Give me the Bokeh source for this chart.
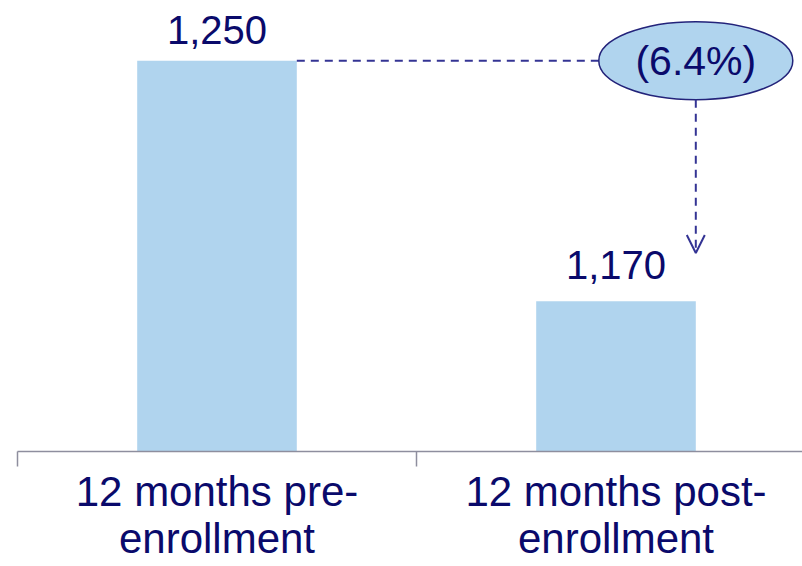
from bokeh.plotting import figure
from bokeh.models import Range1d, FixedTicker, ColumnDataSource, Arrow, OpenHead, LinearAxis, LabelSet
from bokeh.embed import file_html
from bokeh.resources import INLINE
from bokeh.core.properties import value

# ---- data ----
categories = ["12 months pre-\nenrollment", "12 months post-\nenrollment"]
values = [1250, 1170]
value_labels = ["1,250", "1,170"]

# ---- style ----
NAVY = "#0A0A6B"
BAR = "#B0D4EE"
DASH = "#343494"
AXIS = "#8E8E9E"
FONT = "Liberation Sans"

y_start, y_end = 1120, 1270
bar_w = 0.4
xs = [i + 0.5 for i in range(len(categories))]

p = figure(width=802, height=566, output_backend="svg", toolbar_location=None,
           x_range=Range1d(0, 785 / 399), y_range=Range1d(y_start, y_end),
           x_axis_location=None, y_axis_location=None,
           min_border_left=17, min_border_right=0, min_border_top=0, min_border_bottom=115)
p.outline_line_color = None
p.xgrid.visible = False
p.ygrid.visible = False
p.background_fill_color = "white"
p.border_fill_color = "white"

# bars
src = ColumnDataSource(dict(x=xs, top=values, label=value_labels, yoff=[17, 22]))
p.vbar(x="x", top="top", bottom=y_start, width=bar_w, source=src,
       fill_color=BAR, line_color=None)

# value labels
p.add_layout(LabelSet(x="x", y="top", text="label", source=src, y_offset="yoff",
                      text_align="center", text_baseline="alphabetic",
                      text_font=value(FONT), text_font_size="40px", text_color=NAVY))

# connector: horizontal dashed line from bar 1 top to ellipse
ex = xs[1] + bar_w / 2
p.segment(x0=[xs[0] + bar_w / 2], y0=[values[0]], x1=[ex], y1=[values[0]],
          line_color=DASH, line_width=2, line_dash="8 6")

# arrow down toward bar 2
p.add_layout(Arrow(x_start=ex, y_start=values[0] - 13, x_end=ex, y_end=values[1] + 16,
                   line_color=DASH, line_width=2, line_dash="8 6",
                   end=OpenHead(size=18, line_color=DASH, line_width=2)))

# ellipse callout
p.ellipse(x=[ex], y=[values[0]], width=194, height=78,
          width_units="screen", height_units="screen",
          fill_color=BAR, line_color="#23237A", line_width=1.5)
pct = (values[1] - values[0]) / values[0] * 100
pct_text = f"({abs(pct):.1f}%)" if pct < 0 else f"{pct:.1f}%"
p.text(x=[ex], y=[values[0]], text=[pct_text], text_align="center", text_baseline="middle",
       text_font=value(FONT), text_font_size="41px", text_color=NAVY)

# category axis
axis = LinearAxis(ticker=FixedTicker(ticks=xs, minor_ticks=[0, 1, 2]),
                  major_label_overrides={xs[i]: c for i, c in enumerate(categories)},
                  major_tick_out=0, major_tick_in=0,
                  minor_tick_out=15, minor_tick_in=0,
                  axis_line_color=AXIS, axis_line_width=1.5,
                  minor_tick_line_color=AXIS, minor_tick_line_width=1.5,
                  major_label_standoff=1,
                  major_label_text_font=FONT, major_label_text_font_size="42px",
                  major_label_text_color=NAVY, major_label_text_line_height=1.0)
p.add_layout(axis, "below")

open("out.html", "w").write(file_html(p, INLINE))
